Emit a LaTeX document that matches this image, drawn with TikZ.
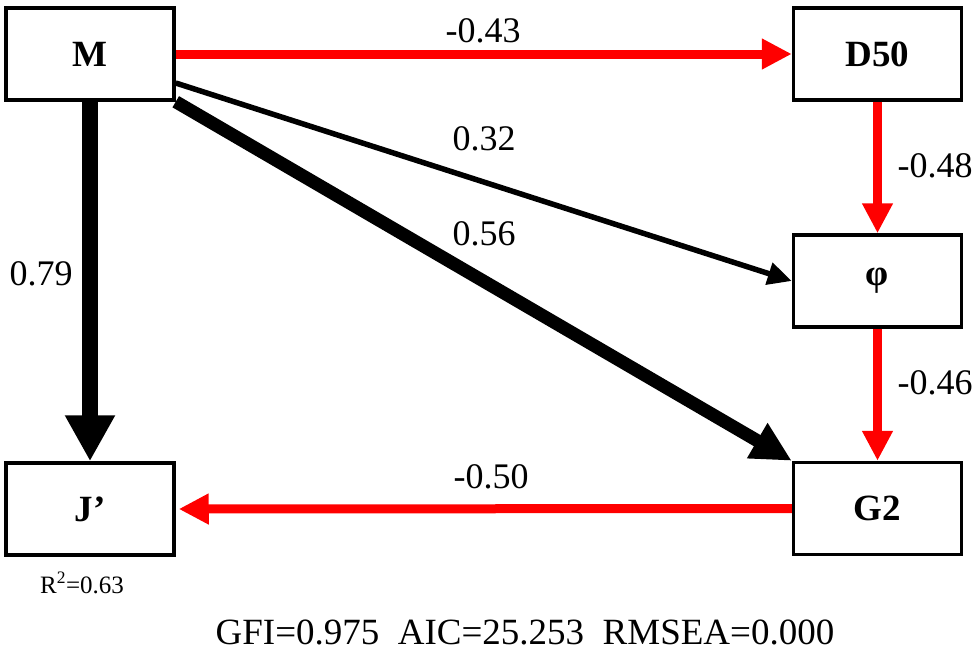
\documentclass[tikz,border=0pt]{standalone}
\usepackage{fontspec}
\setmainfont{Liberation Serif}
\usetikzlibrary{arrows.meta}
\definecolor{pathred}{RGB}{255,0,0}
\tikzset{
  box/.style={draw, line width=3.5pt, minimum width=168pt, minimum height=92pt, inner sep=0pt,
    font=\fontsize{37}{40}\selectfont\bfseries},
  lab/.style={anchor=base, inner sep=0pt, font=\fontsize{36}{40}\selectfont},
  redarrow/.style={draw=pathred, line width=9pt, -{Triangle[length=30pt,width=29pt]}, pathred},
  thickarrow/.style={line width=16pt, -{Triangle[length=46pt,width=47pt]}},
  midarrow/.style={line width=13pt, -{Triangle[length=40pt,width=38pt]}},
  thinarrow/.style={line width=5.5pt, -{Triangle[length=24pt,width=22pt]}}
}
\begin{document}
\begin{tikzpicture}[x=1pt,y=-1pt]
\useasboundingbox (0,0) rectangle (976,656);
\node[box] (M) at (90,54) {M};
\node[box] (D) at (877.5,54) {D50};
\node[box] (P) at (877.5,281) {\raisebox{5pt}{φ}};
\node[box] (G) at (877.5,508.5) {G2};
\node[box] (J) at (90,509) {J'};

\draw[redarrow] (M.east) -- (D.west);
\draw[redarrow] (D.south) -- (P.north);
\draw[redarrow] (P.south) -- (G.north);
\draw[redarrow, shorten >=3pt] (G.west) -- (J.east);
\draw[thickarrow] (M.south) -- (J.north);
\draw[thinarrow] ([yshift=-29pt]M.east) -- (P.west);
\draw[midarrow] (M.south east) -- (G.north west);

\node[lab] (l1) at (483,42) {-0.43};
\node[lab] (l2) at (484,150) {0.32};
\node[lab] (l3) at (484,245) {0.56};
\node[lab] (l4) at (41,285) {0.79};
\node[lab] (l5) at (935,177) {-0.48};
\node[lab] (l6) at (935,394) {-0.46};
\node[lab] (l7) at (491,488) {-0.50};
\node[anchor=base, inner sep=0pt, font=\fontsize{25}{28}\selectfont] (r2) at (82,593) {R\textsuperscript{2}=0.63};
\node[anchor=base, inner sep=0pt, font=\fontsize{37}{40}\selectfont] (fit) at (525,644) {GFI=0.975\ \ AIC=25.253\ \ RMSEA=0.000};
\end{tikzpicture}
\end{document}
